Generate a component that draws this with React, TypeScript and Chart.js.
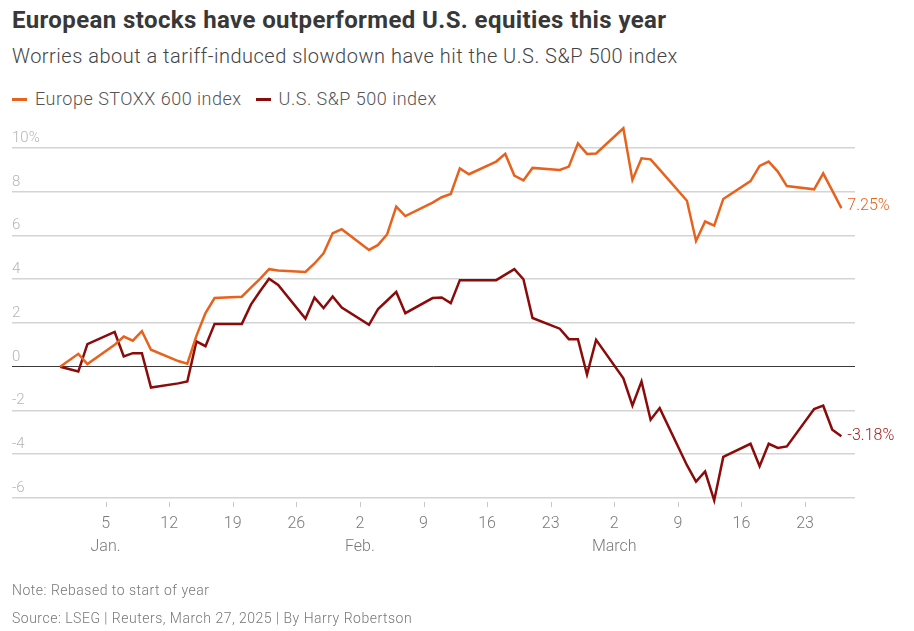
import React, { useEffect, useRef } from "react";
import { Chart, registerables } from "chart.js";

Chart.register(...registerables);

// ---- Data ----
const dates = [
  "2024-12-31",
  "2025-01-02", "2025-01-03", "2025-01-06", "2025-01-07", "2025-01-08", "2025-01-09", "2025-01-10",
  "2025-01-13", "2025-01-14", "2025-01-15", "2025-01-16", "2025-01-17",
  "2025-01-20", "2025-01-21", "2025-01-22", "2025-01-23", "2025-01-24",
  "2025-01-27", "2025-01-28", "2025-01-29", "2025-01-30", "2025-01-31",
  "2025-02-03", "2025-02-04", "2025-02-05", "2025-02-06", "2025-02-07",
  "2025-02-10", "2025-02-11", "2025-02-12", "2025-02-13", "2025-02-14",
  "2025-02-17", "2025-02-18", "2025-02-19", "2025-02-20", "2025-02-21",
  "2025-02-24", "2025-02-25", "2025-02-26", "2025-02-27", "2025-02-28",
  "2025-03-03", "2025-03-04", "2025-03-05", "2025-03-06", "2025-03-07",
  "2025-03-10", "2025-03-11", "2025-03-12", "2025-03-13", "2025-03-14",
  "2025-03-17", "2025-03-18", "2025-03-19", "2025-03-20", "2025-03-21",
  "2025-03-24", "2025-03-25", "2025-03-26", "2025-03-27",
];

const europeStoxx600 = [
  0,
  0.59, 0.12, 1.0, 1.38, 1.19, 1.63, 0.78,
  0.26, 0.14, 1.41, 2.45, 3.14,
  3.2, 3.62, 4.02, 4.46, 4.4,
  4.33, 4.72, 5.19, 6.1, 6.29,
  5.34, 5.57, 6.06, 7.32, 6.89,
  7.5, 7.75, 7.9, 9.07, 8.8,
  9.38, 9.73, 8.74, 8.52, 9.09,
  9.0, 9.15, 10.21, 9.73, 9.75,
  10.9, 8.54, 9.53, 9.48, 9.01,
  7.59, 5.75, 6.64, 6.45, 7.67,
  8.49, 9.18, 9.38, 8.92, 8.26,
  8.11, 8.84, 8.05, 7.25,
];

const usSP500 = [
  0,
  -0.22, 1.03, 1.59, 0.47, 0.62, 0.62, -0.95,
  -0.76, -0.67, 1.16, 0.94, 1.96,
  1.96, 2.84, 3.45, 4.02, 3.74,
  2.2, 3.16, 2.68, 3.21, 2.71,
  1.92, 2.64, 3.03, 3.42, 2.45,
  3.14, 3.17, 2.91, 3.96, 3.96,
  3.96, 4.21, 4.46, 4.0, 2.23,
  1.74, 1.26, 1.26, -0.36, 1.23,
  -0.53, -1.77, -0.67, -2.42, -1.89,
  -4.5, -5.25, -4.79, -6.11, -4.12,
  -3.52, -4.55, -3.52, -3.71, -3.64,
  -1.93, -1.78, -2.88, -3.18,
];

const seriesNames = ["Europe STOXX 600 index", "U.S. S&P 500 index"];
const endLabels = ["7.25%", "-3.18%"];

const xTickDates = [
  "2025-01-05", "2025-01-12", "2025-01-19", "2025-01-26",
  "2025-02-02", "2025-02-09", "2025-02-16", "2025-02-23",
  "2025-03-02", "2025-03-09", "2025-03-16", "2025-03-23",
];
const xTickLabels = ["5", "12", "19", "26", "2", "9", "16", "23", "2", "9", "16", "23"];
const xMonthLabels: Record<string, string> = { "2025-01-05": "Jan.", "2025-02-02": "Feb.", "2025-03-02": "March" };
const yTicks = [-6, -4, -2, 0, 2, 4, 6, 8, 10];

const ORANGE = "#e8621d";
const DARKRED = "#8b0b0b";
const LABEL_RED = "#a32020";

// day index relative to 2025-01-01
const dayIndex = (s: string) =>
  Math.round((Date.parse(s + "T00:00:00Z") - Date.parse("2025-01-01T00:00:00Z")) / 86400000);

const FONT = "Roboto, 'Open Sans', sans-serif";

export default function App() {
  const canvasRef = useRef<HTMLCanvasElement | null>(null);

  useEffect(() => {
    document.body.style.margin = "0";
    const canvas = canvasRef.current;
    if (!canvas) return;

    const xTickValues = xTickDates.map(dayIndex);

    const tickMarks = {
      id: "tickMarks",
      afterDraw(chart: any) {
        const { ctx, chartArea, scales } = chart;
        const xs = scales.x;
        ctx.save();
        ctx.strokeStyle = "#c8c8c8";
        ctx.lineWidth = 1;
        xTickValues.forEach((v) => {
          const px = Math.round(xs.getPixelForValue(v)) + 0.5;
          ctx.beginPath();
          ctx.moveTo(px, chartArea.bottom + 4);
          ctx.lineTo(px, chartArea.bottom + 9);
          ctx.stroke();
        });
        ctx.restore();
      },
    };

    const endLabelPlugin = {
      id: "endLabels",
      afterDatasetsDraw(chart: any) {
        const { ctx } = chart;
        ctx.save();
        ctx.font = `300 16px ${FONT}`;
        ctx.textBaseline = "middle";
        ctx.textAlign = "left";
        chart.data.datasets.forEach((ds: any, i: number) => {
          const meta = chart.getDatasetMeta(i);
          const pt = meta.data[meta.data.length - 1];
          ctx.fillStyle = i === 0 ? ORANGE : LABEL_RED;
          ctx.fillText(endLabels[i], pt.x + 6, pt.y + (i === 0 ? -2 : 0));
        });
        ctx.restore();
      },
    };

    const chart = new Chart(canvas, {
      type: "line",
      data: {
        datasets: [
          {
            label: seriesNames[0],
            data: dates.map((d, i) => ({ x: dayIndex(d), y: europeStoxx600[i] })),
            borderColor: ORANGE,
            borderWidth: 2.5,
            pointRadius: 0,
            tension: 0,
            clip: false as any,
          },
          {
            label: seriesNames[1],
            data: dates.map((d, i) => ({ x: dayIndex(d), y: usSP500[i] })),
            borderColor: DARKRED,
            borderWidth: 2.5,
            pointRadius: 0,
            tension: 0,
            clip: false as any,
          },
        ],
      },
      options: {
        animation: false,
        responsive: false,
        maintainAspectRatio: false,
        devicePixelRatio: 1,
        layout: { padding: { left: 12, right: 59, top: 148, bottom: 0 } },
        plugins: { legend: { display: false }, tooltip: { enabled: false } },
        scales: {
          x: {
            type: "linear",
            min: -6.3,
            max: 86.5,
            afterBuildTicks: (scale: any) => {
              scale.ticks = xTickValues.map((v) => ({ value: v }));
            },
            afterFit: (scale: any) => {
              scale.height = 133;
            },
            grid: { display: false, drawTicks: false },
            border: { display: false },
            ticks: {
              autoSkip: false,
              maxRotation: 0,
              padding: 14,
              color: "#7a7a7a",
              font: { family: FONT, size: 16, weight: "300" as any, lineHeight: 1.45 },
              callback: (value: any) => {
                const idx = xTickValues.indexOf(Number(value));
                if (idx < 0) return "";
                const m = xMonthLabels[xTickDates[idx]];
                return m ? [xTickLabels[idx], m] : xTickLabels[idx];
              },
            },
          },
          y: {
            type: "linear",
            min: -6,
            max: 10,
            afterBuildTicks: (scale: any) => {
              scale.ticks = yTicks.map((v) => ({ value: v }));
            },
            afterFit: (scale: any) => {
              scale.width = 0;
            },
            border: { display: false },
            grid: {
              drawTicks: false,
              color: (c: any) => (c.tick && c.tick.value === 0 ? "#3a3a3a" : "#d4d4d4"),
              lineWidth: (c: any) => (c.tick && c.tick.value === 0 ? 1 : 1.6),
            },
            ticks: {
              mirror: true,
              padding: 0,
              labelOffset: -10,
              color: "#b5b5b5",
              font: { family: FONT, size: 15, weight: "300" as any },
              callback: (value: any) => (Number(value) === 10 ? "10%" : String(value)),
            },
          },
        },
      },
      plugins: [tickMarks, endLabelPlugin],
    });

    return () => chart.destroy();
  }, []);

  const textBase: React.CSSProperties = { position: "absolute", whiteSpace: "nowrap", fontFamily: FONT };

  return (
    <div style={{ position: "relative", width: 914, height: 631, background: "#fff", overflow: "hidden" }}>
      <div style={{ ...textBase, left: 12, top: 8, fontSize: 24, lineHeight: "24px", fontWeight: 700, color: "#383838", letterSpacing: "0.4px" }}>
        European stocks have outperformed U.S. equities this year
      </div>
      <div style={{ ...textBase, left: 12, top: 44, fontSize: 20, lineHeight: "24px", fontWeight: 300, color: "#444", letterSpacing: "0.5px" }}>
        Worries about a tariff-induced slowdown have hit the U.S. S&amp;P 500 index
      </div>
      <div style={{ ...textBase, left: 12, top: 87, fontSize: 18, lineHeight: "24px", fontWeight: 300, color: "#555", letterSpacing: "0.5px", display: "flex", alignItems: "center" }}>
        <span style={{ display: "inline-block", width: 15, height: 3, background: ORANGE, marginRight: 8 }} />
        <span>{seriesNames[0]}</span>
        <span style={{ display: "inline-block", width: 15, height: 3, background: DARKRED, marginLeft: 14, marginRight: 8 }} />
        <span>{seriesNames[1]}</span>
      </div>
      <canvas ref={canvasRef} width={914} height={631} style={{ position: "absolute", left: 0, top: 0, width: 914, height: 631 }} />
      <div style={{ ...textBase, left: 12, top: 580, fontSize: 14, lineHeight: "20px", fontWeight: 300, color: "#777", letterSpacing: "0.5px" }}>
        Note: Rebased to start of year
      </div>
      <div style={{ ...textBase, left: 12, top: 608, fontSize: 14, lineHeight: "20px", fontWeight: 300, color: "#777", letterSpacing: "0.5px" }}>
        Source: LSEG | Reuters, March 27, 2025 | By Harry Robertson
      </div>
    </div>
  );
}
